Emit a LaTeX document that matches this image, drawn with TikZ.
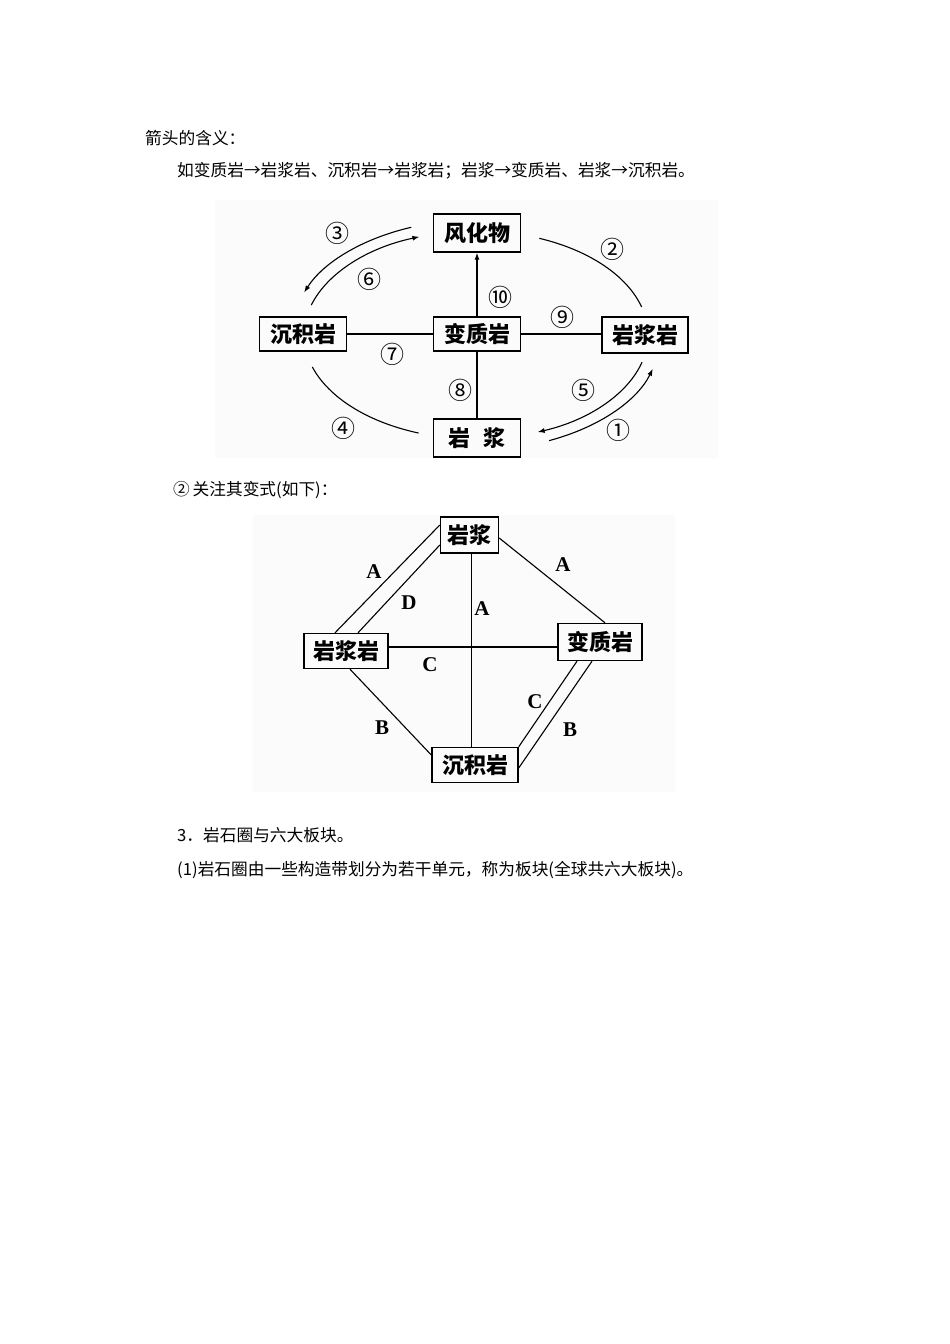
\documentclass[tikz,border=0pt]{standalone}
\usepackage{fontspec}
\setmainfont{Liberation Serif}
\newfontfamily\cjk{Noto Sans CJK SC}
\usetikzlibrary{arrows.meta}
\begin{document}
\begin{tikzpicture}[x=1pt,y=-1pt,
  txt/.style={font=\cjk\fontsize{16.7}{18}\selectfont, anchor=west, inner sep=0},
  box/.style={draw, line width=1.4pt, font=\cjk\bfseries\fontsize{22}{24}\selectfont, inner sep=0, minimum width=87pt, minimum height=36pt},
  ln/.style={line width=1.1pt},
  arr/.style={line width=1.1pt, -{Latex[length=7pt,width=5pt]}},
  num/.style={font=\cjk\fontsize{24}{26}\selectfont, inner sep=0},
  lab/.style={font=\bfseries\fontsize{21}{22}\selectfont, inner sep=0}]
\fill[white] (0,0) rectangle (950,1344);
\useasboundingbox (0,0) rectangle (950,1344);
\fill[black!1.5] (215,200) rectangle (718,458);
\fill[black!1.5] (253,515) rectangle (675,792);

% body text
\node[txt] (t1) at (145,138) {箭头的含义：};
\node[txt] (t2) at (177,171) {如变质岩→岩浆岩、沉积岩→岩浆岩；岩浆→变质岩、岩浆→沉积岩。};
\node[txt] (t3) at (173,490) {②\,关注其变式(如下)：};
\node[txt] (t4) at (177,835) {3．岩石圈与六大板块。};
\node[txt] (t5) at (177,870) {(1)岩石圈由一些构造带划分为若干单元，称为板块(全球共六大板块)。};

% diagram 1
\node[box, minimum height=38pt] (f1) at (477,233) {风化物};
\node[box, minimum height=34pt] (c1) at (303,334) {沉积岩};
\node[box, minimum height=34pt] (b1) at (477,334) {变质岩};
\node[box, minimum width=86pt] (y1) at (645,335) {岩浆岩};
\node[box, minimum height=38pt] (m1) at (477,438) {岩\hspace{0.6em}浆};
\coordinate (E) at (476,335);

\draw[arr] (b1.north) -- (f1.south);
\draw[ln] (c1.east) -- (b1.west);
\draw[ln] (b1.east) -- (b1.east -| y1.west);
\draw[ln] (m1.north) -- (b1.south);

\draw[arr] (E) ++(249.5:185 and 115) arc[start angle=249.5, end angle=201.7, x radius=185, y radius=115];
\draw[arr] (E) ++(196.7:172 and 104) arc[start angle=196.7, end angle=250.8, x radius=172, y radius=104];
\draw[ln]  (E) ++(291.6:172 and 104) arc[start angle=291.6, end angle=344.4, x radius=172, y radius=104];
\draw[ln]  (E) ++(162.1:172 and 104) arc[start angle=162.1, end angle=109.5, x radius=172, y radius=104];
\draw[arr] (E) ++(15.1:172 and 104) arc[start angle=15.1, end angle=69, x radius=172, y radius=104];
\draw[arr] (E) ++(66.7:185 and 115) arc[start angle=66.7, end angle=17.1, x radius=185, y radius=115];

\node[num] (n3) at (337,233) {③};
\node[num] (n6) at (369,279) {⑥};
\node[num] (n2) at (612,249) {②};
\node[num] (n10) at (500,297) {⑩};
\node[num] (n9) at (562,317) {⑨};
\node[num] (n7) at (392,354) {⑦};
\node[num] (n8) at (460,390) {⑧};
\node[num] (n5) at (583,390) {⑤};
\node[num] (n4) at (343,428) {④};
\node[num] (n1) at (618,430) {①};

% diagram 2
\node[box, minimum width=58pt] (ym) at (469.5,535) {岩浆};
\node[box, minimum width=84pt, minimum height=35pt] (yy) at (346,651) {岩浆岩};
\node[box, minimum width=84pt, minimum height=37pt] (bz) at (600,642) {变质岩};
\node[box, minimum width=86pt, minimum height=35pt] (cj) at (475,765) {沉积岩};

\draw[ln] ([yshift=10pt]ym.west) -- ([xshift=-11pt]yy.north);
\draw[ln] ([yshift=-10pt]ym.west) -- ([xshift=12pt]yy.north);
\draw[ln] ([yshift=-3pt]ym.east) -- ([xshift=5pt]bz.north);
\draw[ln] ([xshift=2pt]ym.south) -- ([xshift=2pt]ym.south |- cj.north);
\draw[ln] ([yshift=4pt]yy.east) -- ([yshift=4pt]yy.east -| bz.west);
\draw[ln] ([xshift=4pt]yy.south) -- ([yshift=10pt]cj.west);
\draw[ln] ([xshift=-23pt]bz.south) -- (cj.north east);
\draw[ln] ([xshift=-8pt]bz.south) -- ([yshift=-3pt]cj.east);

\node[lab] (la1) at (374,572) {A};
\node[lab] (ld) at (409,603) {D};
\node[lab] (la2) at (482,609) {A};
\node[lab] (la3) at (563,565) {A};
\node[lab] (lc1) at (430,665) {C};
\node[lab] (lb1) at (382,728) {B};
\node[lab] (lc2) at (535,702) {C};
\node[lab] (lb2) at (570,730) {B};
\end{tikzpicture}
\end{document}
